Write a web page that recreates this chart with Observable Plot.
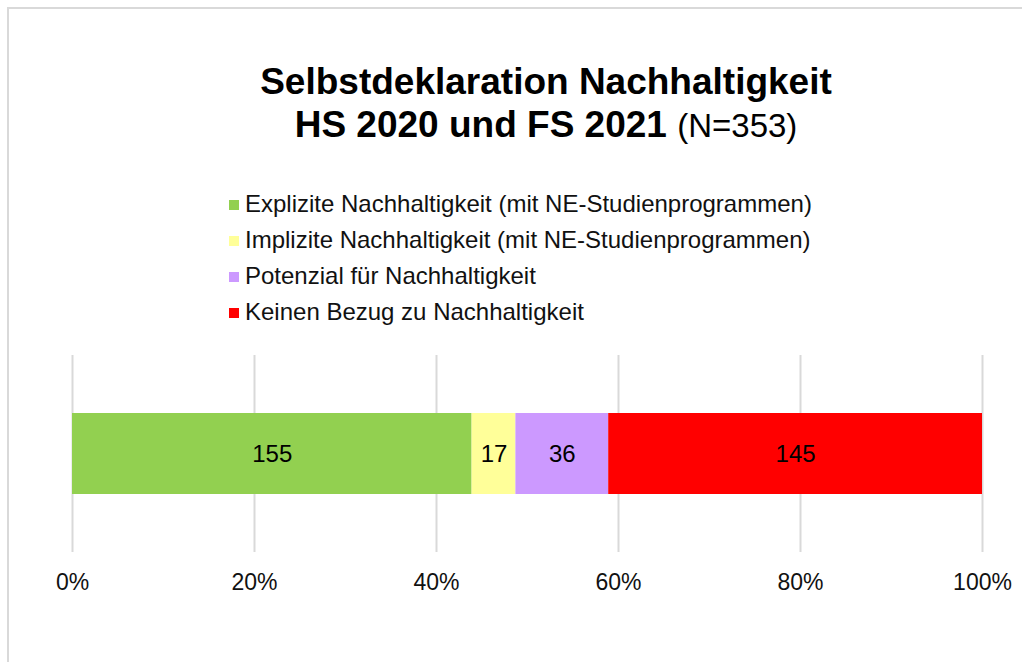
<!DOCTYPE html>
<html><head><meta charset="utf-8">
<script src="https://cdn.jsdelivr.net/npm/d3@7"></script>
<script src="https://cdn.jsdelivr.net/npm/@observablehq/plot@0.6"></script>
<style>
html,body{margin:0;background:#fff;font-family:"Liberation Sans",Arial,sans-serif;color:#111;overflow:hidden;width:1022px;height:662px;}
#frame{position:absolute;left:7px;top:7px;width:1015px;height:655px;border-top:2px solid #d9d9d9;border-left:2px solid #d9d9d9;box-sizing:border-box;}
#title{position:absolute;left:0;width:1092px;top:60px;text-align:center;font-weight:bold;font-size:37px;line-height:43px;color:#000;}
#title .n{font-weight:normal;font-size:33px;}
#legend{position:absolute;left:229px;top:186px;font-size:24px;line-height:36px;color:#111;}
#legend .row{display:flex;align-items:center;height:36px;}
#legend .sw{width:10px;height:10px;margin-right:6px;margin-top:1px;}
#chart{position:absolute;left:0;top:340px;}
</style></head>
<body>
<div id="frame"></div>
<div id="title">Selbstdeklaration Nachhaltigkeit<br>HS 2020 und FS 2021 <span class="n">(N=353)</span></div>
<div id="legend"></div>
<div id="chart"></div>
<script>
const categories = [
  "Explizite Nachhaltigkeit (mit NE-Studienprogrammen)",
  "Implizite Nachhaltigkeit (mit NE-Studienprogrammen)",
  "Potenzial für Nachhaltigkeit",
  "Keinen Bezug zu Nachhaltigkeit"
];
const counts = [155, 17, 36, 145];
const colors = ["#92d050", "#ffff99", "#cc99ff", "#ff0000"];
const xTicks = [0, 0.2, 0.4, 0.6, 0.8, 1];
const tickLabels = ["0%", "20%", "40%", "60%", "80%", "100%"];

const data = categories.map((c, i) => ({cat: c, value: counts[i], row: "all"}));

const legend = document.getElementById("legend");
categories.forEach((c, i) => {
  const r = document.createElement("div");
  r.className = "row";
  const s = document.createElement("div");
  s.className = "sw";
  s.style.background = colors[i];
  const t = document.createElement("span");
  t.textContent = c;
  r.appendChild(s); r.appendChild(t);
  legend.appendChild(r);
});

const chart = Plot.plot({
  width: 1022, height: 260,
  marginLeft: 72, marginRight: 40, marginTop: 15, marginBottom: 48,
  style: {fontFamily: "Liberation Sans, Arial, sans-serif", background: "transparent"},
  x: {domain: [0, 1], label: null},
  y: {domain: ["all"], padding: 0.417, axis: null},
  color: {domain: categories, range: colors},
  marks: [
    Plot.gridX(xTicks, {stroke: "#d9d9d9", strokeOpacity: 1, strokeWidth: 2}),
    Plot.barX(data, Plot.stackX({x: "value", y: "row", fill: "cat", offset: "normalize", order: null})),
    Plot.textX(data, Plot.stackX({x: "value", y: "row", text: "value", offset: "normalize", order: null, fill: "#000", fontSize: 24})),
    Plot.axisX(xTicks, {anchor: "bottom", label: null, tickSize: 0, tickPadding: 21, fontSize: 23, fill: "#111",
      tickFormat: (d) => tickLabels[xTicks.indexOf(d)]})
  ]
});
document.getElementById("chart").appendChild(chart);
</script>
</body></html>
